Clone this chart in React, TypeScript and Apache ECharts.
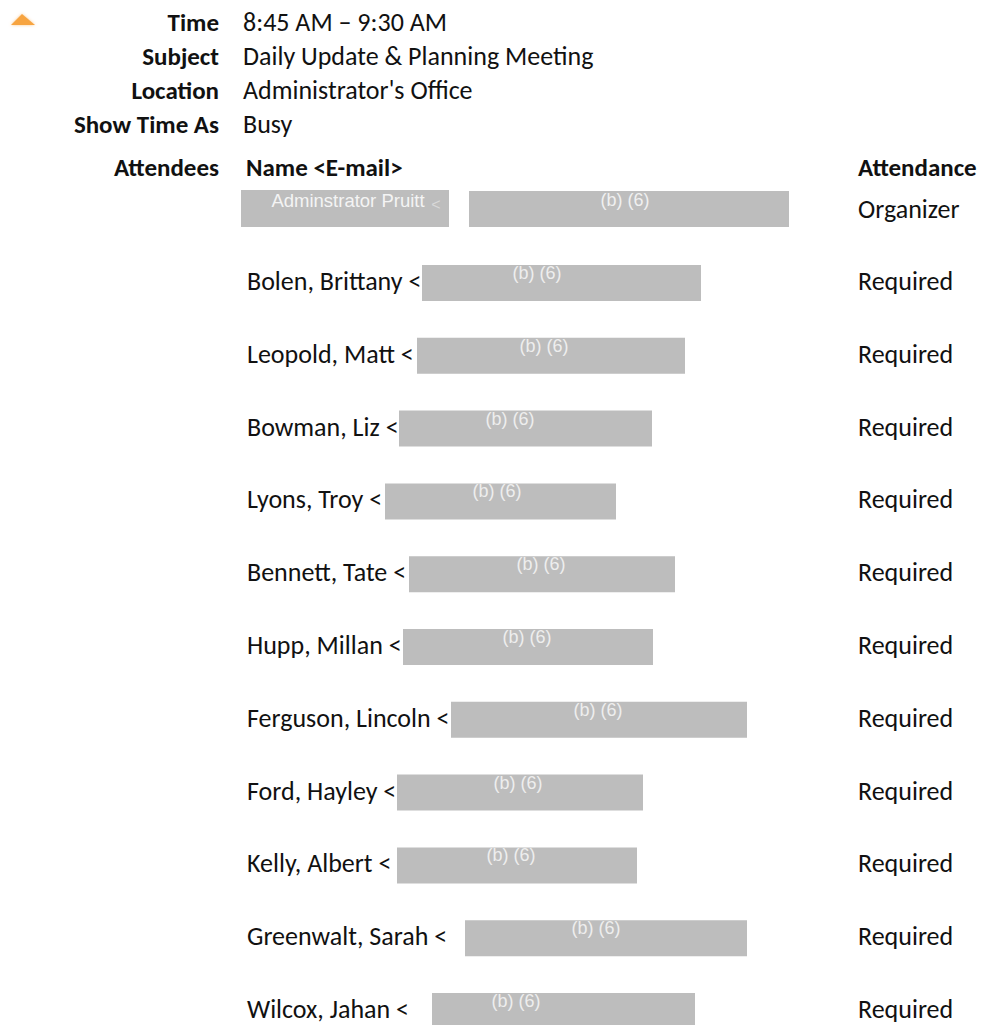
import React, { useEffect, useRef } from "react";
import * as echarts from "echarts";

const headerLabels = ["Time", "Subject", "Location", "Show Time As", "Attendees"];
const headerValues = ["8:45 AM – 9:30 AM", "Daily Update & Planning Meeting", "Administrator's Office", "Busy", ""];
const columnTitles = ["Name <E-mail>", "Attendance"];
const organizerName = "Adminstrator Pruitt";
const organizerRole = "Organizer";
const attendeeNames = [
  "Bolen, Brittany", "Leopold, Matt", "Bowman, Liz", "Lyons, Troy", "Bennett, Tate",
  "Hupp, Millan", "Ferguson, Lincoln", "Ford, Hayley", "Kelly, Albert", "Greenwalt, Sarah", "Wilcox, Jahan",
];
const attendeeRoles = Array(11).fill("Required");
const redactionMark = "(b) (6)";
// redaction box extents [left, right] and label centre
const redactLeft = [422, 417, 399, 385, 409, 403, 451, 397, 397, 465, 432];
const redactRight = [701, 685, 652, 616, 675, 653, 747, 643, 637, 747, 695];
const redactLabelX = [537, 544, 510, 497, 541, 527, 598, 518, 511, 596, 516];

const FONT = "Carlito, Calibri, Lato, sans-serif";
const ARIAL = "Liberation Sans, Arial, sans-serif";
const GRAY = "#bdbdbd";

export default function App() {
  const ref = useRef<HTMLDivElement>(null);
  useEffect(() => {
    if (!ref.current) return;
    const chart = echarts.init(ref.current, null, { renderer: "svg" });
    const g: any[] = [];
    const txt = (text: string, x: number, y: number, opts: any = {}) =>
      g.push({
        type: "text",
        x, y,
        z: 10,
        style: {
          text,
          fill: opts.fill || "#111",
          font: `${opts.bold ? "bold " : ""}${opts.size || 26}px ${opts.family || FONT}`,
          align: opts.align || "left",
          verticalAlign: "middle",
          lineHeight: opts.lh || 22,
        },
      });

    // orange arrow
    g.push({
      type: "polygon",
      shape: { points: [[11, 25], [22, 14], [35, 25]] },
      style: { fill: "#f7a440", shadowBlur: 3, shadowColor: "rgba(247,164,64,0.6)" },
    });

    const headerY = [22, 56, 90, 124, 167];
    headerLabels.forEach((l, i) => {
      txt(l, 219, headerY[i], { bold: true, align: "right", size: 25 });
      if (headerValues[i]) txt(headerValues[i], 243, headerY[i]);
    });
    txt(columnTitles[0], 246, 167, { bold: true, size: 25 });
    txt(columnTitles[1], 858, 167, { bold: true, size: 25 });

    // organizer row
    g.push({ type: "rect", shape: { x: 241, y: 190, width: 208, height: 37 }, style: { fill: GRAY } });
    g.push({ type: "rect", shape: { x: 469, y: 191, width: 320, height: 36 }, style: { fill: GRAY } });
    txt(organizerName, 348, 200, { fill: "#f4f4f4", size: 18.5, family: ARIAL, align: "center", lh: 18 });
    txt("<", 436, 204, { fill: "#d8d8d8", size: 16, family: ARIAL, align: "center", lh: 16 });
    txt(redactionMark, 625, 200, { fill: "#f0f0f0", size: 18, family: ARIAL, align: "center", lh: 18 });
    txt(organizerRole, 858, 209);

    attendeeNames.forEach((n, i) => {
      const y = 281 + i * 72.8;
      txt(n + " <", 247, y);
      g.push({
        type: "rect",
        shape: { x: redactLeft[i], y: y - 16, width: redactRight[i] - redactLeft[i], height: 36 },
        style: { fill: GRAY },
      });
      txt(redactionMark, redactLabelX[i], y - 8, { fill: "#eeeeee", size: 18, family: ARIAL, align: "center", lh: 18 });
      txt(attendeeRoles[i], 858, y);
    });

    chart.setOption({ animation: false, backgroundColor: "#ffffff", graphic: g });
    return () => chart.dispose();
  }, []);
  return <div ref={ref} style={{ position: "absolute", left: 0, top: 0, width: 990, height: 1025 }} />;
}
